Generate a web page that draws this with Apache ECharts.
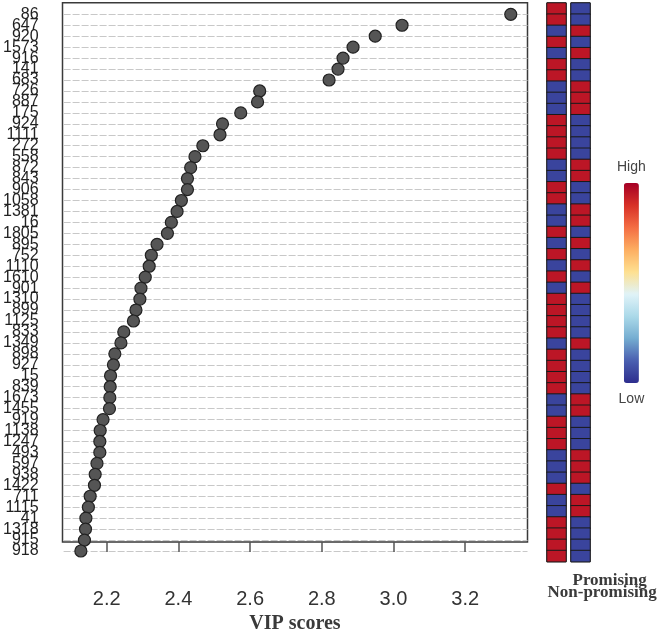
<!DOCTYPE html>
<html lang="en">
<head>
<meta charset="UTF-8">
<title>VIP scores</title>
<script src="https://cdn.jsdelivr.net/npm/echarts@6/dist/echarts.min.js"></script>
<style>
    html, body { margin: 0; padding: 0; background: #fff; }
    #chart { width: 661px; height: 639px; }
</style>
</head>
<body>
<div id="chart"></div>
<script>
    // features, top to bottom
    var features = ['86', '647', '920', '1573', '916', '141', '683', '726', '887', '175',
        '924', '1111', '272', '558', '872', '843', '906', '1058', '1381', '16',
        '1805', '895', '752', '1110', '1610', '901', '1310', '899', '1125', '833',
        '1349', '898', '927', '15', '839', '1673', '1455', '919', '1138', '1247',
        '493', '597', '938', '1422', '711', '1115', '41', '1318', '915', '918'];
    var vipScores = [3.327, 3.023, 2.948, 2.886, 2.858, 2.844, 2.819, 2.625, 2.619, 2.572,
        2.521, 2.514, 2.466, 2.444, 2.432, 2.423, 2.423, 2.406, 2.394, 2.378,
        2.367, 2.338, 2.322, 2.316, 2.305, 2.293, 2.290, 2.279, 2.272, 2.245,
        2.237, 2.220, 2.216, 2.208, 2.207, 2.206, 2.205, 2.187, 2.179, 2.178,
        2.178, 2.170, 2.165, 2.163, 2.151, 2.146, 2.139, 2.138, 2.135, 2.125];
    // relative level per group (high > 0, low < 0)
    var nonPromising = [0.9, 0.9, -0.9, 0.9, -0.9, 0.9, 0.9, -0.9, -0.9, -0.9,
        0.9, 0.9, 0.9, 0.9, -0.9, -0.9, 0.9, 0.9, -0.9, -0.9,
        0.9, -0.9, 0.9, -0.9, 0.9, -0.9, 0.9, 0.9, 0.9, 0.9,
        -0.9, 0.9, 0.9, 0.9, 0.9, -0.9, -0.9, 0.9, 0.9, 0.9,
        -0.9, -0.9, -0.9, 0.9, -0.9, -0.9, 0.9, 0.9, 0.9, 0.9];
    var promising = [-0.9, -0.9, 0.9, -0.9, 0.9, -0.9, -0.9, 0.9, 0.9, 0.9,
        -0.9, -0.9, -0.9, -0.9, 0.9, 0.9, -0.9, -0.9, 0.9, 0.9,
        -0.9, 0.9, -0.9, 0.9, -0.9, 0.9, -0.9, -0.9, -0.9, -0.9,
        0.9, -0.9, -0.9, -0.9, -0.9, 0.9, 0.9, -0.9, -0.9, -0.9,
        0.9, 0.9, 0.9, -0.9, 0.9, 0.9, -0.9, -0.9, -0.9, -0.9];
    var xTicks = [2.2, 2.4, 2.6, 2.8, 3.0, 3.2];
    var groups = ['Non-promising', 'Promising'];
    var legendText = ['High', 'Low'];

    var xMin = 2.0767, xMax = 3.3738;
    var serifBold = { fontFamily: 'Liberation Serif', fontWeight: 'bold', color: '#3a3a3a' };

    var mCharts = echarts.init(document.getElementById('chart'));

    var option = {
        animation: false,
        grid: [
            // outer box + x axis
            { left: 62.5, top: 2.7, width: 465, height: 560.3, show: true, borderColor: '#3a3a3a', borderWidth: 1.5 },
            // dots
            { left: 62.5, top: 14.3, width: 465, height: 536.7 },
            // heatmap columns
            { left: 547, top: 3, width: 19, height: 558.7, show: true, borderColor: '#333', borderWidth: 1 },
            { left: 571, top: 3, width: 19, height: 558.7, show: true, borderColor: '#333', borderWidth: 1 }
        ],
        xAxis: [
            {
                gridIndex: 0, type: 'value', min: xMin, max: xMax,
                axisLine: { show: false },
                splitLine: { show: false },
                axisTick: { show: true, length: 10, customValues: xTicks, lineStyle: { color: '#555', width: 1.5 } },
                axisLabel: {
                    customValues: xTicks, margin: 47, fontSize: 20, color: '#333',
                    fontFamily: 'Liberation Sans',
                    formatter: function (v) { return v.toFixed(1); }
                },
                name: 'VIP scores', nameLocation: 'middle', nameGap: 72,
                nameTextStyle: Object.assign({ fontSize: 20 }, serifBold)
            },
            { gridIndex: 1, type: 'value', min: xMin, max: xMax, show: false },
            {
                gridIndex: 2, type: 'category', data: [groups[0]], offset: 6,
                axisLine: { show: false },
                axisTick: { length: 13, alignWithLabel: true, lineStyle: { color: '#444' } },
                axisLabel: Object.assign({ align: 'left', margin: 16, fontSize: 17, padding: [0, 0, 0, -9] }, serifBold)
            },
            {
                gridIndex: 3, type: 'category', data: [groups[1]], offset: 6,
                axisLine: { show: false },
                axisTick: { length: 4, alignWithLabel: true, lineStyle: { color: '#444' } },
                axisLabel: Object.assign({ align: 'left', margin: 4, fontSize: 17, padding: [0, 0, 0, -8] }, serifBold)
            }
        ],
        yAxis: [
            { gridIndex: 0, type: 'value', show: false },
            {
                gridIndex: 1, type: 'category', data: features, inverse: true, boundaryGap: false,
                axisLine: { show: false },
                axisTick: { show: false },
                axisLabel: {
                    interval: 0, margin: 25, fontSize: 16, color: '#222',
                    fontFamily: 'Liberation Sans'
                },
                splitLine: { show: true, lineStyle: { color: '#c8c8c8', width: 1, type: [7, 2] } }
            },
            { gridIndex: 2, type: 'category', data: features, inverse: true, show: false },
            { gridIndex: 3, type: 'category', data: features, inverse: true, show: false }
        ],
        visualMap: {
            type: 'continuous', min: -1, max: 1, seriesIndex: [1, 2],
            calculable: false, orient: 'vertical',
            left: 602, top: 145, itemWidth: 15, itemHeight: 200,
            text: legendText, textGap: 9,
            textStyle: { color: '#444', fontSize: 14, fontFamily: 'Liberation Sans' },
            inRange: {
                color: ['#2d2d8e', '#4a5fb0', '#74add1', '#abd9e9', '#e0f3f8',
                    '#fee090', '#fdae61', '#f46d43', '#d73027', '#a50026']
            }
        },
        series: [
            {
                type: 'scatter', xAxisIndex: 1, yAxisIndex: 1,
                data: features.map(function (f, i) { return [vipScores[i], f]; }),
                symbolSize: 12,
                itemStyle: { color: '#555', borderColor: '#222', borderWidth: 1.2, opacity: 1 }
            },
            {
                type: 'heatmap', xAxisIndex: 2, yAxisIndex: 2,
                data: nonPromising.map(function (v, i) { return [0, i, v]; }),
                itemStyle: { borderColor: '#1a1a1a', borderWidth: 1 }
            },
            {
                type: 'heatmap', xAxisIndex: 3, yAxisIndex: 3,
                data: promising.map(function (v, i) { return [0, i, v]; }),
                itemStyle: { borderColor: '#1a1a1a', borderWidth: 1 }
            }
        ]
    };
    mCharts.setOption(option);
</script>
</body>
</html>
